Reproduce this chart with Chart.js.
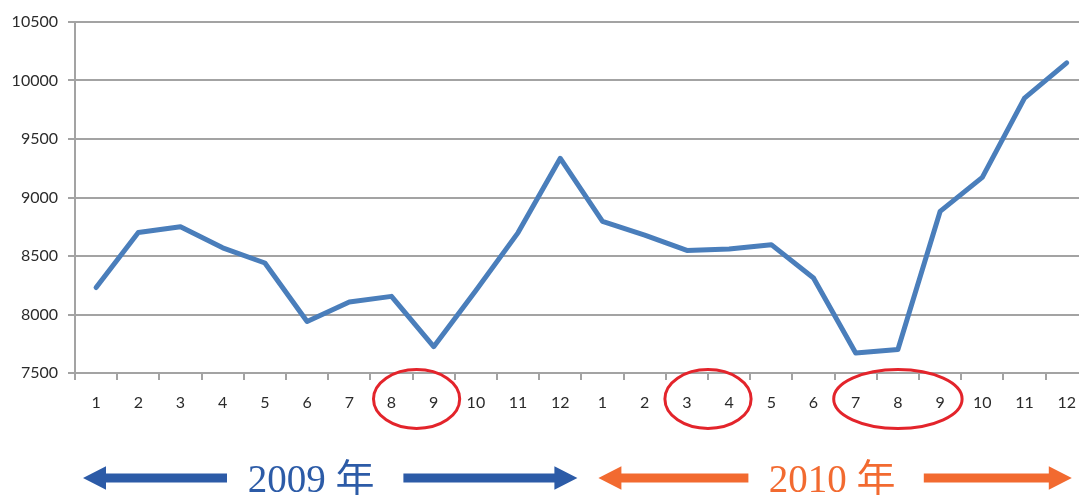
<!DOCTYPE html>
<html>
<head>
<meta charset="utf-8">
<script src="https://cdn.jsdelivr.net/npm/chart.js@4"></script>
<style>
  html, body { margin: 0; padding: 0; background: #ffffff; overflow: hidden; }
  #wrap { width: 1079px; height: 495px; overflow: hidden; }
  canvas { display: block; }
</style>
</head>
<body>
<div id="wrap"><canvas id="chart" width="1089" height="495"></canvas></div>
<script>
// Months shown on the category axis (two years side by side)
const months = ['1','2','3','4','5','6','7','8','9','10','11','12',
                '1','2','3','4','5','6','7','8','9','10','11','12'];

// Monthly values
const values2009 = [8230, 8700, 8750, 8570, 8440, 7940, 8107, 8155, 7725, 8205, 8700, 9335];
const values2010 = [8796, 8678, 8548, 8560, 8597, 8312, 7671, 7700, 8881, 9172, 9850, 10150];

// Value axis range
const yMin = 7500;
const yMax = 10500;
const yStep = 500;

// Year captions under the axis
const yearLabels = ['2009 年', '2010 年'];

// Month groups ringed in red: [first index, last index]
const circled = [[7, 8], [14, 15], [18, 20]];

const GRID = '#a3a3a3';
const LINE = '#4a7ebb';
const BLUE = '#2c5ba7';
const ORANGE = '#f26a30';
const RED = '#e3242b';

const annotations = {
  id: 'annotations',
  afterDraw(chart) {
    const ctx = chart.ctx;
    const x = chart.scales.x;
    const area = chart.chartArea;
    const half = (x.getPixelForValue(1) - x.getPixelForValue(0)) / 2;

    // red ellipses round selected month labels
    ctx.save();
    ctx.strokeStyle = RED;
    ctx.lineWidth = 3;
    const cy = area.bottom + 26;
    circled.forEach(([a, b], i) => {
      const xa = x.getPixelForValue(a);
      const xb = x.getPixelForValue(b);
      const cx = (xa + xb) / 2 + (i === 0 ? 4 : 0);
      const rx = (xb - xa) / 2 + 22;
      ctx.beginPath();
      ctx.ellipse(cx, cy, rx, 29.5, 0, 0, Math.PI * 2);
      ctx.stroke();
    });
    ctx.restore();

    // double-headed arrows with year captions
    const ay = area.bottom + 105;
    const drawArrow = (tipL, tipR, textL, textR, color, text) => {
      ctx.save();
      ctx.fillStyle = color;
      const headLen = 23, headHalf = 11.7, shaft = 4.5;
      // left arrow
      ctx.beginPath();
      ctx.moveTo(tipL, ay);
      ctx.lineTo(tipL + headLen, ay - headHalf);
      ctx.lineTo(tipL + headLen, ay - shaft);
      ctx.lineTo(textL, ay - shaft);
      ctx.lineTo(textL, ay + shaft);
      ctx.lineTo(tipL + headLen, ay + shaft);
      ctx.lineTo(tipL + headLen, ay + headHalf);
      ctx.closePath();
      ctx.fill();
      // right arrow
      ctx.beginPath();
      ctx.moveTo(tipR, ay);
      ctx.lineTo(tipR - headLen, ay - headHalf);
      ctx.lineTo(tipR - headLen, ay - shaft);
      ctx.lineTo(textR, ay - shaft);
      ctx.lineTo(textR, ay + shaft);
      ctx.lineTo(tipR - headLen, ay + shaft);
      ctx.lineTo(tipR - headLen, ay + headHalf);
      ctx.closePath();
      ctx.fill();
      // caption
      ctx.font = '39px "Liberation Serif", "Noto Sans CJK JP", serif';
      ctx.textAlign = 'center';
      ctx.textBaseline = 'alphabetic';
      ctx.fillText(text, (textL + textR) / 2 - 4, area.bottom + 119);
      ctx.restore();
    };

    const b0 = x.getPixelForValue(0) - half;   // left edge of first month
    const b12 = x.getPixelForValue(12) - half; // boundary between years
    const b24 = x.getPixelForValue(23) + half; // right edge of last month

    drawArrow(b0 + 8, b12 - 4, b0 + 152, b12 - 178, BLUE, yearLabels[0]);
    drawArrow(b12 + 17, b24 - 16, b12 + 167, b24 - 164, ORANGE, yearLabels[1]);
  }
};

new Chart(document.getElementById('chart'), {
  type: 'line',
  data: {
    labels: months,
    datasets: [{
      data: values2009.concat(values2010),
      borderColor: LINE,
      borderWidth: 5,
      pointRadius: 0,
      tension: 0,
      borderJoinStyle: 'round',
      borderCapStyle: 'round',
      fill: false
    }]
  },
  options: {
    responsive: false,
    animation: false,
    events: [],
    layout: { padding: { top: 22, right: 1, left: 0, bottom: 0 } },
    plugins: {
      legend: { display: false },
      tooltip: { enabled: false }
    },
    scales: {
      x: {
        type: 'category',
        offset: true,
        grid: {
          offset: true,
          drawOnChartArea: false,
          drawTicks: true,
          tickLength: 7,
          color: GRID,
          lineWidth: 2
        },
        border: { display: true, color: GRID, width: 2 },
        ticks: {
          color: '#2b2b2b',
          font: { family: 'Lato, "Open Sans", sans-serif', size: 16 },
          padding: 13,
          maxRotation: 0,
          autoSkip: false
        },
        afterFit(scale) { scale.height = 122; }
      },
      y: {
        min: yMin,
        max: yMax,
        grid: {
          color: GRID,
          lineWidth: 2,
          drawTicks: true,
          tickLength: 7
        },
        border: { display: true, color: GRID, width: 2 },
        ticks: {
          stepSize: yStep,
          color: '#2b2b2b',
          font: { family: 'Lato, "Open Sans", sans-serif', size: 16 },
          padding: 10,
          callback: (v) => String(v)
        },
        afterFit(scale) { scale.width = 75; }
      }
    }
  },
  plugins: [annotations]
});
</script>
</body>
</html>
